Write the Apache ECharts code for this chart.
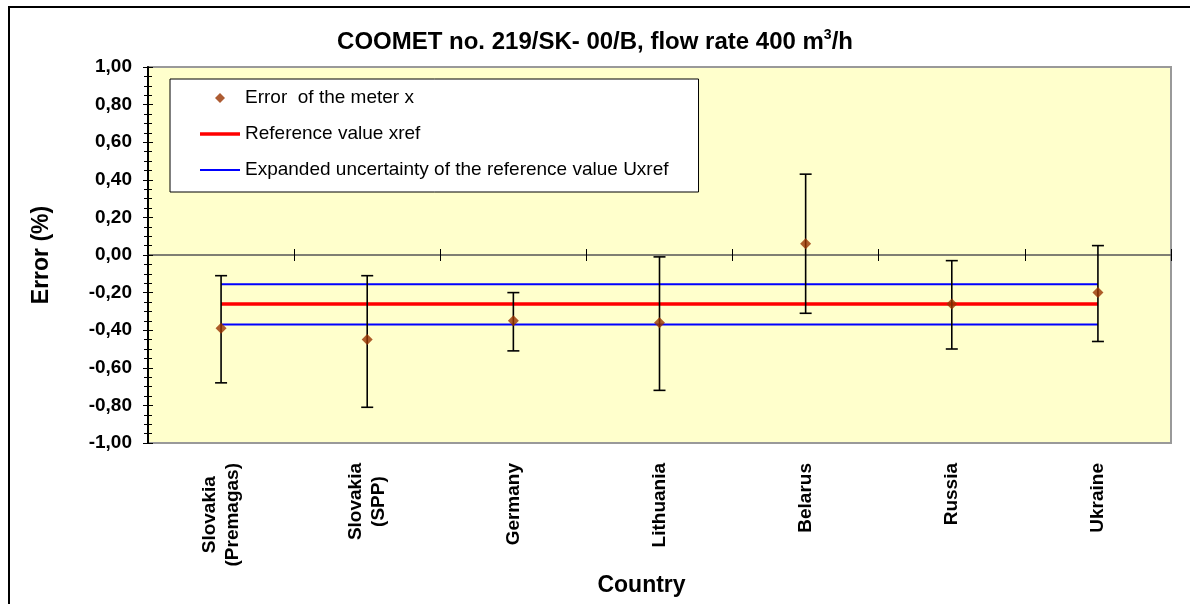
<!DOCTYPE html>
<html>
<head>
<meta charset="utf-8">
<title>COOMET no. 219/SK- 00/B</title>
<script src="https://cdn.jsdelivr.net/npm/echarts@6/dist/echarts.min.js"></script>
<style>
  html, body { margin: 0; padding: 0; background: #fff; }
  #chart { width: 1190px; height: 604px; }
</style>
</head>
<body>
<div id="chart"></div>
<script>
// values
const countries = ['Slovakia\n(Premagas)', 'Slovakia\n(SPP)', 'Germany', 'Lithuania', 'Belarus', 'Russia', 'Ukraine'];
const meterError = [-0.39, -0.45, -0.35, -0.36, 0.06, -0.26, -0.20];
const barHigh = [-0.11, -0.11, -0.20, -0.01, 0.43, -0.03, 0.05];
const barLow = [-0.68, -0.81, -0.51, -0.72, -0.31, -0.50, -0.46];
const xref = [-0.26, -0.26, -0.26, -0.26, -0.26, -0.26, -0.26];
const uxrefHigh = [-0.155, -0.155, -0.155, -0.155, -0.155, -0.155, -0.155];
const uxrefLow = [-0.37, -0.37, -0.37, -0.37, -0.37, -0.37, -0.37];

const FONT = "'Liberation Sans', Arial, sans-serif";
const NAME_X = 'Error  of the meter x';
const NAME_REF = 'Reference value xref';
const NAME_U = 'Expanded uncertainty of the reference value Uxref';

const errorBars = countries.map((c, i) => [i, barLow[i], barHigh[i]]);

const myChart = echarts.init(document.getElementById('chart'), null, { renderer: 'canvas' });

const yCommon = {
  type: 'value',
  position: 'left',
  min: -1,
  max: 1,
  interval: 0.2,
  splitLine: { show: false },
};

const option = {
  animation: false,
  backgroundColor: '#fff',
  title: {
    text: '{t|COOMET no. 219/SK- 00/B, flow rate 400 m}{s|3}{t|/h}',
    left: 'center',
    top: 28,
    padding: 0,
    textStyle: {
      rich: {
        t: { fontFamily: FONT, fontSize: 24, fontWeight: 'bold', color: '#000', lineHeight: 28 },
        s: { fontFamily: FONT, fontSize: 14, fontWeight: 'bold', color: '#000', lineHeight: 14, verticalAlign: 'top' },
      },
    },
  },
  legend: {
    orient: 'vertical',
    left: 170,
    top: 79,
    padding: [8, 30, 11, 30],
    itemGap: 14,
    itemWidth: 40,
    itemHeight: 10,
    symbolKeepAspect: true,
    backgroundColor: '#fff',
    borderColor: '#000',
    borderWidth: 1,
    borderRadius: 0,
    selectedMode: false,
    itemStyle: { borderWidth: 0 },
    textStyle: { fontFamily: FONT, fontSize: 19, color: '#000', lineHeight: 22 },
    data: [
      { name: NAME_X, icon: 'path://M0,-1L1,0L0,1L-1,0Z' },
      { name: NAME_REF, icon: 'path://M0,0H40V3.5H0Z' },
      { name: NAME_U, icon: 'path://M0,0H40V2H0Z' },
    ],
  },
  grid: {
    left: 148,
    top: 67,
    right: 19,
    bottom: 161,
    show: true,
    backgroundColor: '#FFFFCC',
    borderColor: '#999',
    borderWidth: 2,
  },
  xAxis: [
    {
      type: 'category',
      position: 'bottom',
      data: countries,
      boundaryGap: true,
      axisLine: { show: false, onZero: false },
      axisTick: { show: false },
      axisLabel: {
        rotate: 90,
        margin: 20,
        interval: 0,
        formatter: (v) => v.split('\n').map((s) => '{c|' + s + '}').join('\n'),
        rich: {
          c: { fontFamily: FONT, fontSize: 19, fontWeight: 'bold', color: '#000', align: 'center', lineHeight: 23 },
        },
      },
      name: 'Country',
      nameLocation: 'middle',
      nameGap: 120,
      nameTextStyle: { fontFamily: FONT, fontSize: 23, fontWeight: 'bold', color: '#000', padding: [0, 36, 0, 0] },
    },
    {
      // zero line, ticks above
      type: 'category',
      position: 'top',
      data: countries,
      boundaryGap: true,
      axisLine: { show: true, onZero: true, onZeroAxisIndex: 0, lineStyle: { color: '#555', width: 1.5 } },
      axisTick: { show: true, inside: false, length: 6, lineStyle: { color: '#000' } },
      axisLabel: { show: false },
    },
    {
      // zero line, ticks below
      type: 'category',
      position: 'top',
      data: countries,
      boundaryGap: true,
      axisLine: { show: false, onZero: true, onZeroAxisIndex: 0 },
      axisTick: { show: true, inside: true, length: 6, lineStyle: { color: '#000' } },
      axisLabel: { show: false },
    },
  ],
  yAxis: [
    Object.assign({}, yCommon, {
      axisLine: { show: true, lineStyle: { color: '#000', width: 2 } },
      axisTick: { show: true, inside: false, length: 5, lineStyle: { color: '#000' } },
      minorTick: { show: true, splitNumber: 4, length: 4, lineStyle: { color: '#000' } },
      axisLabel: {
        margin: 16,
        fontFamily: FONT,
        fontSize: 19,
        fontWeight: 'bold',
        color: '#000',
        formatter: (v) => v.toFixed(2).replace('.', ','),
      },
      name: 'Error (%)',
      nameLocation: 'middle',
      nameGap: 95,
      nameRotate: 90,
      nameTextStyle: { fontFamily: FONT, fontSize: 23, fontWeight: 'bold', color: '#000' },
    }),
    Object.assign({}, yCommon, {
      axisLine: { show: false },
      axisTick: { show: true, inside: true, length: 5, lineStyle: { color: '#000' } },
      minorTick: { show: true, splitNumber: 4, length: 4, lineStyle: { color: '#000' } },
      axisLabel: { show: false },
    }),
  ],
  series: [
    {
      name: NAME_U,
      type: 'line',
      data: uxrefHigh,
      symbol: 'none',
      lineStyle: { color: '#0000FF', width: 2 },
      itemStyle: { color: '#0000FF' },
      z: 1,
    },
    {
      name: NAME_U,
      type: 'line',
      data: uxrefLow,
      symbol: 'none',
      lineStyle: { color: '#0000FF', width: 2 },
      itemStyle: { color: '#0000FF' },
      z: 1,
    },
    {
      name: NAME_REF,
      type: 'line',
      data: xref,
      symbol: 'none',
      lineStyle: { color: '#FF0000', width: 3.5 },
      itemStyle: { color: '#FF0000' },
      z: 2,
    },
    {
      name: 'error bars',
      type: 'custom',
      data: errorBars,
      z: 3,
      renderItem: (params, api) => {
        const lo = api.coord([api.value(0), api.value(1)]);
        const hi = api.coord([api.value(0), api.value(2)]);
        const cap = 6;
        const style = { stroke: '#000', lineWidth: 1.6 };
        return {
          type: 'group',
          children: [
            { type: 'line', shape: { x1: hi[0], y1: hi[1], x2: lo[0], y2: lo[1] }, style },
            { type: 'line', shape: { x1: hi[0] - cap, y1: hi[1], x2: hi[0] + cap, y2: hi[1] }, style },
            { type: 'line', shape: { x1: lo[0] - cap, y1: lo[1], x2: lo[0] + cap, y2: lo[1] }, style },
          ],
        };
      },
    },
    {
      name: NAME_X,
      type: 'scatter',
      data: meterError,
      symbol: 'diamond',
      symbolSize: 11,
      itemStyle: { color: '#993300' },
      z: 4,
    },
  ],
  graphic: [
    {
      type: 'rect',
      silent: true,
      shape: { x: 9, y: 7, width: 1200, height: 700 },
      style: { fill: 'none', stroke: '#000', lineWidth: 2 },
    },
  ],
};

myChart.setOption(option);
</script>
</body>
</html>
